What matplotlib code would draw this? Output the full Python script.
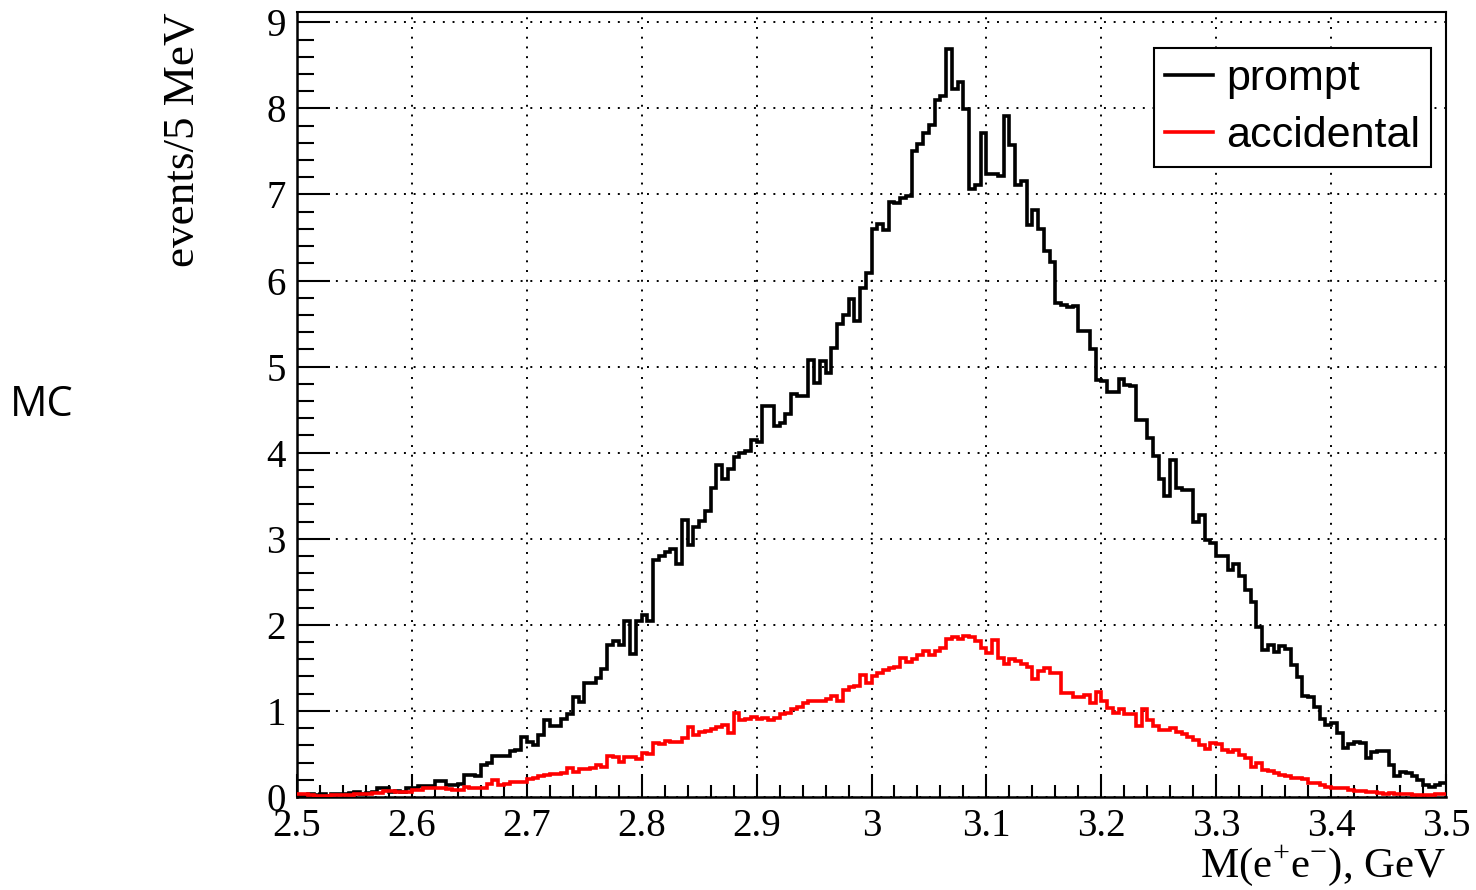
import numpy as np
import matplotlib.pyplot as plt
from matplotlib.ticker import MultipleLocator

# 5 MeV bins from 2.5 to 3.5 GeV
M_LO, M_HI, N_BINS = 2.5, 3.5, 200

prompt = [
    0.02, 0.00, 0.03, 0.02, 0.03, 0.01, 0.03, 0.04, 0.03, 0.05,
    0.06, 0.04, 0.05, 0.06, 0.10, 0.10, 0.06, 0.07, 0.06, 0.10,
    0.10, 0.13, 0.13, 0.13, 0.19, 0.19, 0.14, 0.14, 0.15, 0.26,
    0.26, 0.24, 0.37, 0.40, 0.48, 0.48, 0.48, 0.54, 0.55, 0.70,
    0.64, 0.60, 0.72, 0.90, 0.82, 0.82, 0.91, 0.97, 1.16, 1.10,
    1.32, 1.32, 1.38, 1.49, 1.77, 1.81, 1.77, 2.05, 1.66, 2.05,
    2.12, 2.05, 2.75, 2.80, 2.85, 2.88, 2.71, 3.22, 2.93, 3.14,
    3.21, 3.32, 3.59, 3.86, 3.69, 3.81, 3.95, 4.00, 4.02, 4.15,
    4.12, 4.54, 4.54, 4.31, 4.34, 4.45, 4.68, 4.66, 4.66, 5.08,
    4.81, 5.06, 4.93, 5.22, 5.50, 5.60, 5.78, 5.53, 5.91, 6.09,
    6.60, 6.66, 6.59, 6.91, 6.90, 6.96, 6.98, 7.50, 7.59, 7.71,
    7.81, 8.10, 8.14, 8.69, 8.22, 8.31, 7.99, 7.06, 7.11, 7.72,
    7.24, 7.24, 7.22, 7.91, 7.57, 7.11, 7.16, 6.64, 6.82, 6.60,
    6.34, 6.22, 5.74, 5.72, 5.69, 5.71, 5.41, 5.41, 5.20, 4.85,
    4.83, 4.70, 4.70, 4.86, 4.79, 4.77, 4.38, 4.38, 4.17, 3.96,
    3.69, 3.50, 3.92, 3.59, 3.57, 3.57, 3.19, 3.28, 2.98, 2.95,
    2.80, 2.80, 2.64, 2.71, 2.57, 2.40, 2.26, 1.98, 1.71, 1.77,
    1.68, 1.75, 1.72, 1.53, 1.39, 1.17, 1.16, 1.05, 0.91, 0.84,
    0.86, 0.74, 0.57, 0.61, 0.64, 0.63, 0.45, 0.52, 0.53, 0.53,
    0.37, 0.24, 0.29, 0.28, 0.24, 0.20, 0.14, 0.12, 0.14, 0.16,
]

accidental = [
    0.03, 0.03, 0.02, 0.01, 0.01, 0.01, 0.02, 0.02, 0.02, 0.02,
    0.03, 0.04, 0.04, 0.05, 0.05, 0.07, 0.07, 0.06, 0.06, 0.06,
    0.08, 0.08, 0.10, 0.10, 0.11, 0.11, 0.09, 0.08, 0.08, 0.12,
    0.10, 0.10, 0.11, 0.15, 0.20, 0.14, 0.15, 0.17, 0.18, 0.18,
    0.21, 0.22, 0.24, 0.26, 0.27, 0.27, 0.28, 0.34, 0.29, 0.33,
    0.32, 0.34, 0.37, 0.35, 0.48, 0.46, 0.41, 0.46, 0.47, 0.44,
    0.51, 0.50, 0.63, 0.62, 0.65, 0.64, 0.64, 0.68, 0.81, 0.72,
    0.75, 0.77, 0.79, 0.81, 0.84, 0.74, 0.98, 0.90, 0.91, 0.93,
    0.91, 0.92, 0.89, 0.92, 0.97, 0.98, 1.02, 1.04, 1.09, 1.12,
    1.12, 1.12, 1.14, 1.17, 1.12, 1.24, 1.28, 1.29, 1.42, 1.32,
    1.40, 1.44, 1.47, 1.50, 1.51, 1.62, 1.57, 1.60, 1.65, 1.70,
    1.65, 1.70, 1.73, 1.83, 1.86, 1.84, 1.87, 1.86, 1.81, 1.73,
    1.67, 1.82, 1.61, 1.55, 1.60, 1.58, 1.55, 1.51, 1.37, 1.46,
    1.50, 1.44, 1.44, 1.21, 1.21, 1.16, 1.16, 1.18, 1.09, 1.22,
    1.11, 1.03, 0.98, 1.02, 0.96, 0.96, 0.82, 1.02, 0.89, 0.82,
    0.78, 0.78, 0.80, 0.76, 0.73, 0.70, 0.66, 0.60, 0.56, 0.63,
    0.62, 0.55, 0.52, 0.55, 0.49, 0.45, 0.35, 0.40, 0.31, 0.30,
    0.28, 0.26, 0.24, 0.22, 0.22, 0.21, 0.16, 0.16, 0.14, 0.12,
    0.11, 0.10, 0.10, 0.08, 0.07, 0.07, 0.06, 0.06, 0.05, 0.04,
    0.05, 0.04, 0.03, 0.03, 0.02, 0.02, 0.02, 0.02, 0.03, 0.04,
]

x_ticks = [2.5, 2.6, 2.7, 2.8, 2.9, 3.0, 3.1, 3.2, 3.3, 3.4, 3.5]
x_tick_labels = ["2.5", "2.6", "2.7", "2.8", "2.9", "3", "3.1", "3.2", "3.3", "3.4", "3.5"]
y_ticks = [0, 1, 2, 3, 4, 5, 6, 7, 8, 9]

plt.rcParams["mathtext.fontset"] = "custom"
plt.rcParams["mathtext.rm"] = "Liberation Serif"
SERIF = "Liberation Serif"

edges = np.linspace(M_LO, M_HI, N_BINS + 1)

fig = plt.figure(figsize=(14.76, 8.9), dpi=100)
ax = fig.add_axes([297 / 1476, 1 - 797 / 890, 1149 / 1476, 785 / 890])

ax.stairs(prompt, edges, color="black", lw=2.6, baseline=None, label="prompt", zorder=3)
ax.stairs(accidental, edges, color="#ff0000", lw=2.6, baseline=None, label="accidental", zorder=4)

ax.set_xlim(M_LO, M_HI)
ax.set_ylim(0, 9.12)
ax.set_xticks(x_ticks)
ax.set_xticklabels(x_tick_labels)
ax.set_yticks(y_ticks)
ax.xaxis.set_minor_locator(MultipleLocator(0.02))
ax.yaxis.set_minor_locator(MultipleLocator(0.2))

ax.grid(True, which="major", color="black", linestyle=(0, (1, 4)), lw=1.4)
for s in ["top", "right"]:
    ax.spines[s].set_linewidth(1.5)
for s in ["bottom", "left"]:
    ax.spines[s].set_linewidth(1.8)

ax.tick_params(axis="x", which="major", direction="in", length=16.5, width=1.5, pad=8)
ax.tick_params(axis="x", which="minor", direction="in", length=8.5, width=1.5)
ax.tick_params(axis="y", which="major", direction="in", length=24, width=1.5, pad=8)
ax.tick_params(axis="y", which="minor", direction="in", length=12, width=1.5)
for lab in ax.get_xticklabels() + ax.get_yticklabels():
    lab.set_fontfamily(SERIF)
    lab.set_fontsize(28)

fig.text(183 / 1476, 1 - 12 / 890, "events/5 MeV", rotation=90, ha="center", va="top",
         family=SERIF, fontsize=32.5)
fig.text(1446 / 1476, 1 - 866 / 890, r"M(e$^{+}$e$^{-}$), GeV", ha="right", va="center",
         family=SERIF, fontsize=31)
fig.text(10 / 1476, 1 - 405 / 890, "MC", ha="left", va="center", family="Open Sans", fontsize=30)

leg = ax.legend(loc="upper right", bbox_to_anchor=((1431 - 297) / 1149, (797 - 48) / 785),
                prop={"family": "Liberation Sans", "size": 31}, frameon=True, fancybox=False,
                edgecolor="black", framealpha=1, handlelength=1.12, handletextpad=0.3,
                borderpad=0.25, labelspacing=0.4, borderaxespad=0)
leg.get_frame().set_linewidth(1.5)

fig.savefig("out.png", dpi=100)
